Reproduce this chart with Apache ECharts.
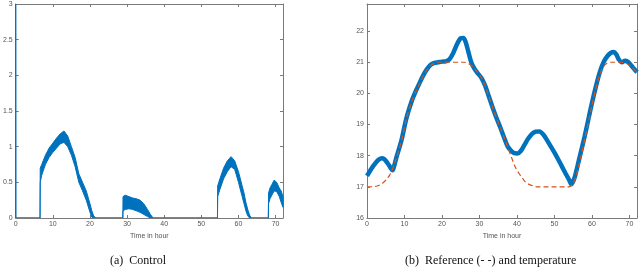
<!DOCTYPE html>
<html><head><meta charset="utf-8">
<script src="https://cdn.jsdelivr.net/npm/echarts@6/dist/echarts.min.js"></script>
<style>html,body{margin:0;padding:0;background:#fff}#c{width:640px;height:267px}</style>
</head><body><div id="c"></div>
<script>
// ---- (a) Control : noisy band given as upper / lower envelopes ----
const ctrlTime  = [0,0.05,6.55,6.6,7,8,9,10,11,12,13,14,15,16,17,18,19,20,20.5,21,21.5,
  28.85,28.9,29.5,30.5,31.5,32.5,33.5,34.5,35.5,36.3,37,
  54.35,54.4,55,56,57,58,59,60,61,61.5,62,62.5,63,63.5,
  68.05,68.1,68.5,69,69.6,70.3,71,71.5,72];
const ctrlUpper = [3,0,0,0.7,0.75,0.88,0.98,1.05,1.12,1.18,1.22,1.15,1.0,0.85,0.62,0.5,0.38,0.2,0.1,0.03,0,
  0,0.3,0.32,0.3,0.28,0.27,0.25,0.2,0.12,0.05,0,
  0,0.45,0.55,0.7,0.8,0.86,0.8,0.65,0.45,0.35,0.22,0.12,0.04,0,
  0,0.35,0.42,0.47,0.53,0.5,0.42,0.38,0.3];
const ctrlLower = [0,0,0,0.5,0.6,0.75,0.85,0.92,0.98,1.04,1.06,1.0,0.88,0.72,0.5,0.38,0.25,0.08,0.01,0,0,
  0,0.1,0.12,0.13,0.12,0.1,0.08,0.05,0.02,0,0,
  0,0.3,0.4,0.55,0.65,0.72,0.68,0.5,0.3,0.2,0.1,0.03,0,0,
  0,0.2,0.27,0.32,0.38,0.37,0.3,0.22,0.15];

// ---- (b) temperature and reference ----
const tempTime = [0,0.5,1,1.5,2,2.5,3,3.5,4,4.5,5,5.5,6,6.5,6.8,7.2,7.9,9.2,10.5,12,13,14,15,16,17,18,19,20,21,22,23,24,25,25.7,26.3,27,27.8,28.6,29.5,30.5,31.5,32.5,33.5,34.5,35.5,36.5,37.5,38.5,39.3,40.1,41,42,43,44,45,46,47,48,49,50,51,52,53,54,54.5,55,55.5,56,56.5,57,58,59,60,61,62,63,64,65,65.8,66.5,67.2,68,68.8,69.5,70.3,71,72];
const temp     = [17.35,17.45,17.55,17.64,17.72,17.8,17.86,17.9,17.92,17.9,17.84,17.76,17.67,17.57,17.53,17.65,17.97,18.5,19.2,19.78,20.07,20.33,20.58,20.78,20.92,20.98,21.0,21.02,21.03,21.1,21.3,21.58,21.77,21.78,21.65,21.35,21.0,20.8,20.65,20.5,20.25,19.9,19.55,19.22,18.92,18.6,18.3,18.15,18.08,18.07,18.15,18.35,18.55,18.7,18.77,18.78,18.68,18.5,18.3,18.1,17.88,17.65,17.42,17.2,17.08,17.18,17.35,17.6,17.85,18.1,18.6,19.15,19.7,20.2,20.65,20.98,21.18,21.3,21.33,21.25,21.08,21.0,21.05,21.02,20.92,20.82,20.68];
const refTime  = [0,2,3.4,4.3,5.2,6,6.5,7.2,7.9,9.2,10.5,12,13,14,15,16,17,18,19,26,27,28,29,30,30.5,31.5,32.5,33.5,34.5,35.5,36.5,37.5,38.2,38.8,39.6,40.6,41.5,42.3,43.2,44.3,45.4,53.8,54.3,55,55.5,56,56.5,57,58,59,60,61,62,63,64,65,68,69,70,71,72];
const ref      = [17.0,17.01,17.06,17.13,17.24,17.37,17.49,17.7,17.95,18.48,19.18,19.76,20.05,20.31,20.56,20.76,20.9,20.97,21.0,21.0,20.96,20.88,20.75,20.6,20.5,20.25,19.9,19.55,19.22,18.92,18.6,18.29,18.05,17.86,17.62,17.42,17.27,17.15,17.08,17.03,17.0,17.0,17.03,17.12,17.25,17.45,17.7,17.95,18.5,19.05,19.62,20.15,20.58,20.85,20.97,21.0,21.0,20.97,20.9,20.8,20.68];

const xTicks  = [0,10,20,30,40,50,60,70];
const yTicksA = [0,0.5,1,1.5,2,2.5,3];
const yTicksB = [16,17,18,19,20,21,22];

const BLUE = '#0072BD', ORANGE = '#D95319', AX = '#7a7a7a', LBL = '#555';
const zip = (a, b) => a.map((v, i) => [v, b[i]]);

function xAx(g, pos, show) {
  return { type: 'value', gridIndex: g, position: pos, min: 0, max: 72, interval: 10,
    name: show ? 'Time in hour' : '', nameLocation: 'middle', nameGap: 12,
    nameTextStyle: { fontSize: 7, color: LBL, fontFamily: 'Liberation Sans' },
    axisLine: { show: true, onZero: false, lineStyle: { color: AX, width: 1 } },
    axisTick: { show: true, inside: true, length: 3, lineStyle: { color: AX } },
    axisLabel: { show: show, fontSize: 7, color: LBL, margin: 3, fontFamily: 'Liberation Sans',
      showMaxLabel: true, formatter: v => xTicks.includes(v) ? String(v) : '' },
    splitLine: { show: false } };
}
function yAx(g, pos, show, min, max, interval, ticks) {
  return { type: 'value', gridIndex: g, position: pos, min: min, max: max, interval: interval,
    axisLine: { show: true, onZero: false, lineStyle: { color: AX, width: 1 } },
    axisTick: { show: true, inside: true, length: 3, lineStyle: { color: AX } },
    axisLabel: { show: show, fontSize: 7, color: LBL, margin: 3, fontFamily: 'Liberation Sans',
      showMaxLabel: true, showMinLabel: true, formatter: v => ticks.includes(v) ? String(v) : '' },
    splitLine: { show: false } };
}

// control band drawn as one polygon: upper envelope forward, lower envelope back
function renderBand(params, api) {
  const pts = [];
  for (let i = 0; i < ctrlTime.length; i++) pts.push(api.coord([ctrlTime[i], ctrlUpper[i]]));
  for (let i = ctrlTime.length - 1; i >= 0; i--) pts.push(api.coord([ctrlTime[i], ctrlLower[i]]));
  return { type: 'polygon', shape: { points: pts },
    style: { fill: BLUE, stroke: BLUE, lineWidth: 1 } };
}

const chart = echarts.init(document.getElementById('c'), null, { renderer: 'canvas' });
chart.setOption({
  animation: false,
  backgroundColor: '#fff',
  grid: [
    { left: 11, top: 4, width: 272, height: 214 },
    { left: 367, top: 4, width: 271, height: 214 }
  ],
  xAxis: [ xAx(0, 'bottom', true), xAx(1, 'bottom', true), xAx(0, 'top', false), xAx(1, 'top', false) ],
  yAxis: [
    yAx(0, 'left', true, 0, 3, 0.5, yTicksA), yAx(1, 'left', true, 16, 22.87, 1, yTicksB),
    yAx(0, 'right', false, 0, 3, 0.5, yTicksA), yAx(1, 'right', false, 16, 22.87, 1, yTicksB)
  ],
  series: [
    { type: 'custom', xAxisIndex: 0, yAxisIndex: 0, silent: true, clip: true,
      renderItem: renderBand, data: [[0, 0]], z: 2 },
    { type: 'line', xAxisIndex: 1, yAxisIndex: 1, symbol: 'none', smooth: 0.3,
      data: zip(tempTime, temp), lineStyle: { width: 4.5, color: BLUE }, z: 2 },
    { type: 'line', xAxisIndex: 1, yAxisIndex: 1, symbol: 'none', smooth: 0.3,
      data: zip(refTime, ref), lineStyle: { width: 1.2, color: ORANGE, type: [5, 3] }, z: 3 }
  ],
  graphic: [
    { type: 'text', left: 110, top: 255, style: { text: '(a)  Control', font: '12px "Liberation Serif"', fill: '#111' } },
    { type: 'text', left: 405, top: 255, style: { text: '(b)  Reference (- -) and temperature', font: '12px "Liberation Serif"', fill: '#111' } }
  ]
});
</script></body></html>
